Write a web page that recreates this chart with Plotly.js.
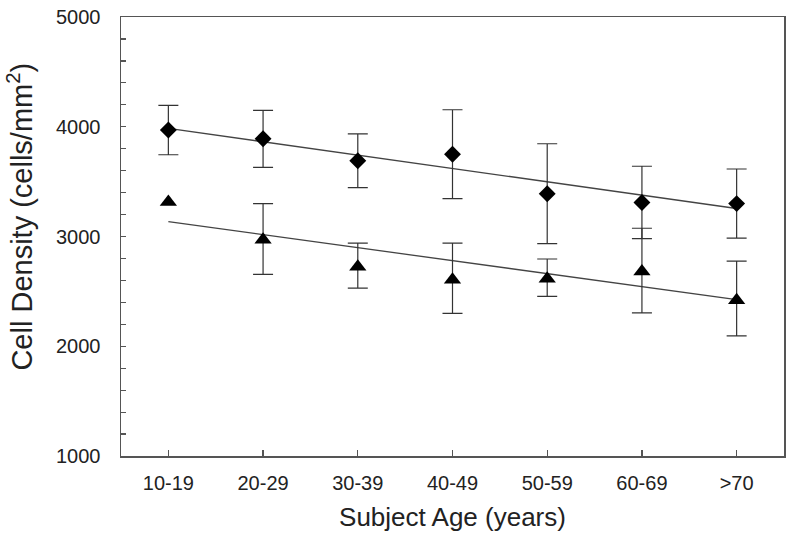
<!DOCTYPE html>
<html>
<head>
<meta charset="utf-8">
<script src="https://cdn.plot.ly/plotly-3.0.1.min.js"></script>
<style>html,body{margin:0;padding:0;background:#fff;}#chart{width:800px;height:548px;}</style>
</head>
<body>
<div id="chart"></div>
<script>
// Age groups (x categories)
var ageGroups = ["10-19", "20-29", "30-39", "40-49", "50-59", "60-69", ">70"];
var xIndex = [0, 1, 2, 3, 4, 5, 6];

// Diamond series: mean cell density and SD
var diamondMean = [3970, 3890, 3690, 3750, 3390, 3310, 3300];
var diamondErr  = [225, 260, 245, 405, 455, 330, 315];

// Triangle series: mean cell density and SD (first point's bar hidden behind marker)
var triangleMean = [3315, 2970, 2725, 2605, 2615, 2680, 2420];
var triangleErrPlus  = [NaN, 330, 215, 335, 180, 395, 355];
var triangleErrMinus = [NaN, 315, 195, 305, 160, 375, 325];

// Regression lines, read at first and last age group
var fitX = [0, 6];
var diamondFit = [3985, 3255];
var triangleFit = [3135, 2425];

var yTicks = [1000, 2000, 3000, 4000, 5000];

var fam = "Liberation Sans, Arial, sans-serif";
var tickFont = {family: fam, size: 20, color: "#222"};
var xTitleFont = {family: fam, size: 26, color: "#222"};
var yTitleFont = {family: fam, size: 29, color: "#222"};
var errStyle = {color: "#333", thickness: 1.2, width: 10};

var data = [
  {x: fitX, y: diamondFit, mode: "lines", type: "scatter",
   line: {color: "#444", width: 1.3}, hoverinfo: "skip", showlegend: false},
  {x: fitX, y: triangleFit, mode: "lines", type: "scatter",
   line: {color: "#444", width: 1.3}, hoverinfo: "skip", showlegend: false},
  {x: xIndex, y: diamondMean, mode: "markers", type: "scatter", showlegend: false,
   marker: {symbol: "diamond", size: 13, color: "#000"},
   error_y: Object.assign({type: "data", array: diamondErr, visible: true}, errStyle)},
  {x: xIndex, y: triangleMean, mode: "markers", type: "scatter", showlegend: false,
   marker: {symbol: "triangle-up", size: 15, color: "#000"},
   error_y: Object.assign({type: "data", symmetric: false, array: triangleErrPlus, arrayminus: triangleErrMinus, visible: true}, errStyle)}
];

var layout = {
  width: 800, height: 548,
  margin: {l: 121, r: 16, t: 17, b: 92},
  paper_bgcolor: "#fff", plot_bgcolor: "#fff",
  showlegend: false,
  xaxis: {
    range: [-0.5, 6.5],
    tickvals: xIndex, ticktext: ageGroups,
    ticks: "inside", ticklen: 6, tickcolor: "#555", tickwidth: 1.2,
    showgrid: false, zeroline: false,
    showline: true, linecolor: "#555", linewidth: 1.5, mirror: true,
    tickfont: tickFont, ticklabelstandoff: 8,
    title: {text: "Subject Age (years)", font: xTitleFont, standoff: 15}
  },
  yaxis: {
    range: [1000, 5000],
    tickvals: yTicks,
    ticks: "inside", ticklen: 5, tickcolor: "#555", tickwidth: 1.2,
    minor: {dtick: 200, tick0: 1000, ticks: "inside", ticklen: 5, tickcolor: "#555", tickwidth: 1.2, showgrid: false},
    showgrid: false, zeroline: false,
    showline: true, linecolor: "#555", linewidth: 1.5, mirror: true,
    tickfont: tickFont, ticklabelstandoff: 15
  },
  annotations: [{
    text: "Cell Density (cells/mm<sup>2</sup>)",
    xref: "paper", yref: "paper", x: -0.153, y: 0.5444,
    xanchor: "center", yanchor: "middle", textangle: -90,
    showarrow: false, font: yTitleFont
  }]
};

Plotly.newPlot("chart", data, layout, {displayModeBar: false, staticPlot: true});
</script>
</body>
</html>
